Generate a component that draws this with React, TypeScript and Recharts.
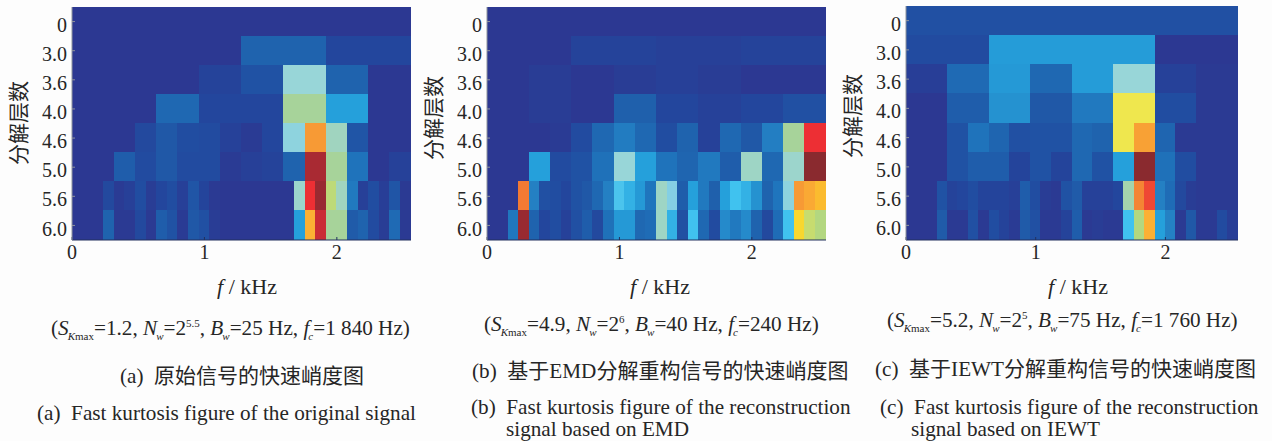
import { Bar, BarChart, Cell, XAxis, YAxis } from "recharts";

const levels = ["0", "3.0", "3.6", "4.0", "4.6", "5.0", "5.6", "6.0"];
const freqTicks = [0, 1, 2];
const maxFreq = 2.56;

const kurtA = [
  [0],
  [0, 0, 20, 9],
  [0, 0, 0, 7, 14, 60, 20, 0],
  [0, 0, 22, 9, 9, 68, 44, 0],
  [0, 0, 0, 10, 16, 12, 11, 6, 2, 9, 58, 88, 64, 15, 0, 0],
  [0, 0, 18, 11, 16, 11, 11, 2, 5, 7, 20, 98, 68, 27, 0, 6],
  [0, 0, 0, 10, 2, 5, 12, 3, 9, 12, 5, 15, 8, 1, 0, 0, 0, 0, 0, 0, 0, 62, 94, 99, 73, 64, 30, 5, 12, 4, 15, 1],
  [0, 0, 0, 20, 1, 1, 10, 1, 18, 14, 2, 16, 13, 3, 0, 0, 0, 0, 0, 0, 0, 44, 85, 96, 68, 68, 17, 20, 11, 3, 23, 1],
];
const kurtB = [
  [0],
  [0, 7, 5, 7],
  [0, 3, 0, 3, 5, 3, 0, 0],
  [0, 3, 0, 19, 9, 6, 9, 13],
  [0, 0, 0, 2, 11, 22, 32, 22, 12, 20, 6, 22, 16, 33, 68, 94],
  [0, 0, 44, 11, 14, 26, 60, 44, 27, 21, 30, 18, 63, 22, 62, 100],
  [0, 0, 0, 91, 34, 13, 12, 9, 14, 16, 22, 34, 51, 47, 42, 28, 63, 56, 18, 44, 30, 19, 44, 50, 47, 40, 20, 28, 58, 88, 86, 84],
  [0, 0, 29, 99, 20, 9, 12, 6, 13, 18, 10, 26, 42, 42, 22, 24, 63, 47, 13, 50, 22, 11, 38, 30, 38, 20, 10, 24, 50, 81, 74, 72],
];
const kurtC = [
  [13],
  [11, 43, 43, 0],
  [4, 23, 42, 22, 43, 60, 6, 1],
  [0, 18, 40, 16, 30, 78, 12, 1],
  [0, 0, 14, 27, 21, 13, 14, 14, 22, 20, 78, 87, 21, 1, 1, 1],
  [0, 0, 14, 18, 18, 8, 14, 8, 22, 14, 44, 100, 26, 12, 1, 1],
  [0, 0, 0, 14, 7, 9, 12, 8, 8, 8, 5, 18, 12, 3, 1, 14, 17, 6, 6, 6, 9, 66, 90, 93, 34, 24, 10, 3, 1, 1, 1, 1],
  [0, 0, 0, 17, 1, 1, 13, 1, 12, 7, 2, 17, 13, 1, 1, 7, 18, 1, 3, 1, 1, 50, 72, 85, 44, 35, 1, 16, 1, 1, 11, 4],
];

const colorStops: [number, number[]][] = [
  [0, [44, 56, 146]],
  [8, [36, 68, 155]],
  [14, [32, 82, 164]],
  [20, [31, 99, 174]],
  [28, [31, 117, 189]],
  [36, [37, 131, 197]],
  [44, [37, 160, 219]],
  [50, [64, 194, 239]],
  [56, [132, 207, 228]],
  [60, [152, 214, 216]],
  [64, [160, 212, 191]],
  [68, [167, 211, 154]],
  [72, [179, 215, 128]],
  [78, [239, 231, 78]],
  [82, [251, 210, 36]],
  [85, [251, 176, 52]],
  [88, [247, 154, 53]],
  [91, [243, 122, 51]],
  [94, [237, 47, 52]],
  [97, [184, 42, 53]],
  [100, [138, 42, 47]],
];

function kurtColor(v: number) {
  for (let i = 1; i < colorStops.length; i++) {
    const [v1, c1] = colorStops[i];
    if (v <= v1) {
      const [v0, c0] = colorStops[i - 1];
      const t = (v - v0) / (v1 - v0);
      const mix = c0.map((c, k) => Math.round(c + (c1[k] - c) * t));
      return `rgb(${mix.join(",")})`;
    }
  }
  return "rgb(138,42,47)";
}

const serif = "'Liberation Serif', serif";
const textColor = "#262626";
const slotIds = Array.from({ length: 32 }, (_, i) => i);

function Heatmap({ values, left, top, width, height }: any) {
  const rows = levels.map((level, r) => {
    const row: any = { level };
    values[r].forEach((_: number, i: number) => {
      row[`s${i}`] = maxFreq / values[r].length;
    });
    return row;
  });
  const axisW = 60;
  const axisH = 40;
  const tickStyle = { fill: textColor, fontSize: 20, fontFamily: serif };

  return (
    <div style={{ position: "absolute", left: left - axisW, top }}>
      <BarChart
        width={width + axisW + 3}
        height={height + axisH + 2}
        data={rows}
        layout="vertical"
        barCategoryGap={0}
        margin={{ top: 1, right: 2, bottom: 1, left: 0 }}
      >
        {slotIds.map((s) => (
          <Bar key={s} dataKey={`s${s}`} stackId="k" isAnimationActive={false} shapeRendering="crispEdges">
            {rows.map((_, r) => {
              const fill = kurtColor(values[r][s] ?? 0);
              return <Cell key={r} fill={fill} stroke={fill} strokeWidth={1} shapeRendering="crispEdges" />;
            })}
          </Bar>
        ))}
        <XAxis
          type="number"
          domain={[0, maxFreq]}
          ticks={freqTicks}
          allowDataOverflow
          height={axisH}
          tickSize={-3}
          tickMargin={8}
          tick={tickStyle}
          stroke="#23305f"
        />
        <XAxis
          xAxisId="top"
          orientation="top"
          type="number"
          domain={[0, maxFreq]}
          ticks={freqTicks}
          height={0}
          tick={false}
          tickSize={-3}
          stroke="#8f949c"
        />
        <YAxis
          type="category"
          dataKey="level"
          width={axisW}
          interval={0}
          tickSize={-3}
          tickMargin={8}
          tick={{ ...tickStyle, dy: 3 }}
          stroke="#8f949c"
        />
        <YAxis
          yAxisId="right"
          orientation="right"
          type="category"
          dataKey="level"
          width={0}
          interval={0}
          tick={false}
          tickSize={-3}
          stroke="#9fa3a8"
          strokeWidth={1.5}
        />
      </BarChart>
    </div>
  );
}

function Txt({ x, y, size = 21.2, children }: any) {
  return (
    <div
      style={{
        position: "absolute",
        left: x,
        top: y,
        transform: "translateY(-50%)",
        fontFamily: serif,
        fontSize: size,
        lineHeight: 1,
        whiteSpace: "nowrap",
        color: textColor,
      }}
    >
      {children}
    </div>
  );
}

const Sub = ({ children }: any) => (
  <span style={{ fontSize: 11, position: "relative", top: 5, marginLeft: -1 }}>{children}</span>
);
const Sup = ({ children }: any) => (
  <span style={{ fontSize: 11, position: "relative", top: -8 }}>{children}</span>
);

function Params({ x, y, s, n, b, f }: any) {
  return (
    <Txt x={x} y={y}>
      (<i>S</i>
      <Sub>
        <i>K</i>max
      </Sub>
      ={s}, <i>N</i>
      <Sub>
        <i>w</i>
      </Sub>
      =2<Sup>{n}</Sup>, <i>B</i>
      <Sub>
        <i>w</i>
      </Sub>
      ={b} Hz, <i>f</i>
      <Sub>
        <i>c</i>
      </Sub>
      ={f} Hz)
    </Txt>
  );
}

function AxisTitles({ fx, fy, lx, ly }: any) {
  return (
    <>
      <Txt x={fx} y={fy} size={22}>
        <i>f</i> / kHz
      </Txt>
      <div
        style={{
          position: "absolute",
          left: lx,
          top: ly,
          transform: "translate(-50%,-50%) rotate(-90deg)",
          fontFamily: "'Noto Sans CJK SC'",
          fontSize: 21,
          lineHeight: 1,
          whiteSpace: "nowrap",
          color: textColor,
        }}
      >
        分解层数
      </div>
    </>
  );
}

const cjk = { fontFamily: "'Noto Sans CJK SC'", fontSize: 21 };

export default function App() {
  return (
    <div style={{ position: "absolute", left: 0, top: 0, width: 1272, height: 441, background: "#fdfdfd", overflow: "hidden" }}>
      <Heatmap values={kurtA} left={72} top={6} width={338} height={233} />
      <Heatmap values={kurtB} left={487} top={6} width={338} height={233} />
      <Heatmap values={kurtC} left={906} top={5} width={331} height={234} />

      <AxisTitles fx={217} fy={287} lx={17} ly={123} />
      <AxisTitles fx={630} fy={287} lx={432} ly={118} />
      <AxisTitles fx={1048} fy={287} lx={851} ly={116} />

      <Params x={51} y={329} s="1.2" n="5.5" b="25" f="1 840" />
      <Params x={484} y={325} s="4.9" n="6" b="40" f="240" />
      <Params x={887} y={321} s="5.2" n="5" b="75" f="1 760" />

      <Txt x={120} y={376}>
        (a)&nbsp; <span style={cjk}>原始信号的快速峭度图</span>
      </Txt>
      <Txt x={472} y={371}>
        (b)&nbsp; <span style={cjk}>基于</span>EMD<span style={cjk}>分解重构信号的快速峭度图</span>
      </Txt>
      <Txt x={875} y={369}>
        (c)&nbsp; <span style={cjk}>基于</span>IEWT<span style={cjk}>分解重构信号的快速峭度图</span>
      </Txt>

      <Txt x={37} y={414}>(a)&nbsp; Fast kurtosis figure of the original signal</Txt>
      <Txt x={471} y={408}>(b)&nbsp; Fast kurtosis figure of the reconstruction</Txt>
      <Txt x={506} y={430}>signal based on EMD</Txt>
      <Txt x={880} y={407.5}>(c)&nbsp; Fast kurtosis figure of the reconstruction</Txt>
      <Txt x={911} y={430}>signal based on IEWT</Txt>
    </div>
  );
}
